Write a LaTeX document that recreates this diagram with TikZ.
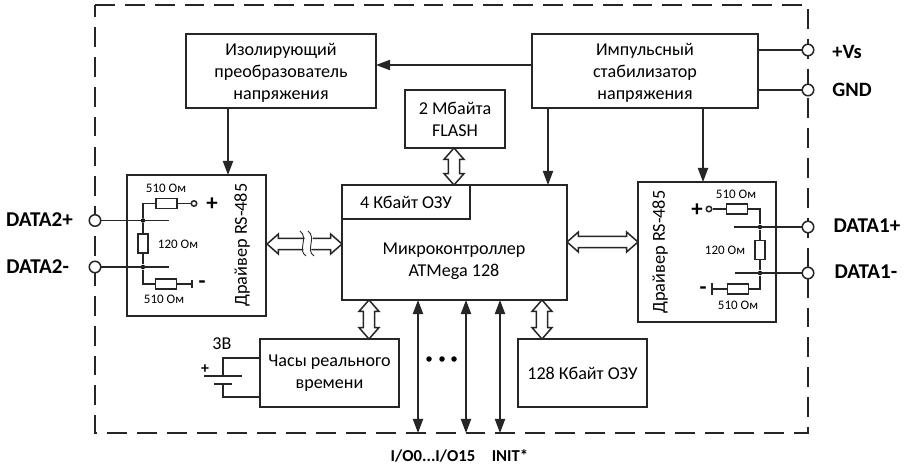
\documentclass[tikz,border=0pt]{standalone}
\usepackage{fontspec}
\setmainfont{Carlito}
\usetikzlibrary{arrows.meta,calc}
\tikzset{
line/.style={line width=0.85pt,color=black!85},
label/.style={inner sep=0pt,align=center,font=\fontsize{10.3}{12.5}\selectfont},
block/.style={line,draw,inner sep=0pt,align=center,text=black,font=\fontsize{10.3}{12.5}\selectfont},
res/.style={line,draw,fill=white,inner sep=0pt,minimum width=0.42cm,minimum height=0.2cm},
resv/.style={line,draw,fill=white,inner sep=0pt,minimum width=0.2cm,minimum height=0.38cm},
dot/.style={circle,fill=black,inner sep=0pt,minimum size=0.09cm},
term/.style={line,circle,draw,fill=white,inner sep=0pt,minimum size=0.23cm},
pin/.style={line,circle,draw,fill=white,inner sep=0pt,minimum size=0.11cm},
ohm/.style={inner sep=0pt,font=\fontsize{7.4}{9}\selectfont},
sig/.style={inner sep=0pt,font=\fontsize{12}{13}\selectfont\bfseries},
powerlabel/.style={inner sep=0pt,font=\fontsize{11.6}{13}\selectfont\bfseries},
iolabel/.style={inner sep=0pt,font=\fontsize{9.5}{11}\selectfont\bfseries},
busline/.style={line,fill=white,line join=miter},
}
\newcommand{\busarrow}[2]{\draw[busline] (#1)
--($(#1)!6.5pt!(#2)!5.7pt!90:(#2)$)--($(#1)!6.5pt!(#2)!3.2pt!90:(#2)$)
--($(#2)!6.5pt!(#1)!3.2pt!-90:(#1)$)--($(#2)!6.5pt!(#1)!5.7pt!-90:(#1)$)
--(#2)
--($(#2)!6.5pt!(#1)!5.7pt!90:(#1)$)--($(#2)!6.5pt!(#1)!3.2pt!90:(#1)$)
--($(#1)!6.5pt!(#2)!3.2pt!-90:(#2)$)--($(#1)!6.5pt!(#2)!5.7pt!-90:(#2)$)--cycle;}
\begin{document}
\begin{tikzpicture}[x=0.02cm,y=-0.02cm,>={Triangle[length=8pt,width=5.8pt]}]
\useasboundingbox(0,0)rectangle(907,466);
\fill[white](0,0)rectangle(907,466);
\draw[line,dash pattern=on 11.3pt off 5.7pt](95,5)--(808,5)--(808,433)--(95,433)--cycle;
% blocks
\node[block,minimum width=3.8cm,minimum height=1.48cm](iso)at(281,71){};
\node[label](isotext)at(281,73){Изолирующий\\преобразователь\\напряжения};
\node[block,minimum width=4.52cm,minimum height=1.48cm](stab)at(645,71){};
\node[label](stabtext)at(645,73){Импульсный\\стабилизатор\\напряжения};
\node[block,minimum width=2cm,minimum height=1.16cm](flash)at(455,119){2 Мбайта\\FLASH};
\node[block,minimum width=4.5cm,minimum height=2.3cm](mcu)at(454.5,242.5){};
\node[block,anchor=north west,minimum width=2.56cm,minimum height=0.68cm](ram4)at(mcu.north west){4 Кбайт ОЗУ};
\node[label](mcutext)at(454,261.5){Микроконтроллер\\ATMega 128};
\node[block,minimum width=2.78cm,minimum height=2.82cm](drvl)at(196.5,245.5){};
\node[block,minimum width=2.76cm,minimum height=2.8cm](drvr)at(707,252){};
\node[block,minimum width=2.78cm,minimum height=1.36cm](clock)at(329.5,373){Часы реального\\времени};
\node[block,minimum width=2.58cm,minimum height=1.36cm](ram128)at(582.5,373){128 Кбайт ОЗУ};
\node[inner sep=0pt,rotate=90,font=\fontsize{10.4}{12}\selectfont](drvltext)at(242,245){Драйвер RS-485};
\node[inner sep=0pt,rotate=90,font=\fontsize{10.4}{12}\selectfont](drvrtext)at(660,252){Драйвер RS-485};
% power
\node[term](tvs)at(808,50){};
\node[term](tgnd)at(808,90){};
\node[powerlabel,anchor=west](lvs)at(832,52){+Vs};
\node[powerlabel,anchor=west](lgnd)at(832,90){GND};
\draw[line](stab.east|-tvs)--(tvs);
\draw[line](stab.east|-tgnd)--(tgnd);
\coordinate(a1)at(532,65);\coordinate(a2)at(376,65);
\coordinate(a3)at(228,108);\coordinate(a4)at(228,175);
\coordinate(a5)at(548,108);\coordinate(a6)at(548,185);
\coordinate(a7)at(703,108);\coordinate(a8)at(703,182);
\draw[line,->](a1)--(a2);
\draw[line,->](a3)--(a4);
\draw[line,->](a5)--(a6);
\draw[line,->](a7)--(a8);
% buses
\coordinate(b1)at(454,148);\coordinate(b2)at(454,185);
\coordinate(b3)at(369,300);\coordinate(b4)at(369,339);
\coordinate(b5)at(542,300);\coordinate(b6)at(542,339);
\coordinate(b7)at(267,244);\coordinate(b8)at(342,244);
\coordinate(b9)at(567,242);\coordinate(b10)at(638,242);
\busarrow{b1}{b2}
\busarrow{b3}{b4}
\busarrow{b5}{b6}
\busarrow{b7}{b8}
\busarrow{b9}{b10}
\fill[white](302,231)..controls(309,238)and(299,250)..(306,256)--(314,256)..controls(307,250)and(317,238)..(310,231)--cycle;
\draw[line,line width=0.5pt](300,231)..controls(309,238)and(297,250)..(306,256);
\draw[line,line width=0.5pt](308,231)..controls(317,238)and(305,250)..(314,256);
% left driver
\node[term](t2p)at(95,220.5){};
\node[term](t2m)at(95,267){};
\node[sig](l2p)at(39.5,220){DATA2+};
\node[sig,anchor=west](l2m)at(6,267){DATA2-};
\node[dot](dl1)at(143,220.5){};
\node[dot](dl2)at(143,267){};
\coordinate(el1)at(169,220.5);\coordinate(el2)at(169,267);
\node[res](rl1)at(166.5,203.5){};
\node[resv](rl2)at(143,243.5){};
\node[res](rl3)at(166,284){};
\node[pin](pl)at(194,203.5){};
\coordinate(bl)at(192,284);
\draw[line](t2p)--(el1);
\draw[line](t2m)--(el2);
\draw[line](dl1)|-(rl1);\draw[line](rl1)--(pl);
\draw[line](dl1)--(rl2)--(dl2);
\draw[line](dl2)|-(rl3);\draw[line](rl3)--(bl);
\draw[line]([yshift=-0.09cm]bl)--([yshift=0.09cm]bl);
\node[ohm](ol1)at(166,188){510 Ом};
\node[ohm](ol2)at(178,244){120 Ом};
\node[ohm](ol3)at(164,299){510 Ом};
\node[inner sep=0pt,font=\fontsize{13}{13}\selectfont\bfseries](plusl)at(212,204.5){+};
\node[inner sep=0pt,font=\fontsize{13}{13}\selectfont\bfseries](minusl)at(202,284.5){-};
% right driver
\node[term](t1p)at(808,227){};
\node[term](t1m)at(808,273){};
\node[sig](l1p)at(867,226){DATA1+};
\node[sig](l1m)at(866,272){DATA1-};
\node[dot](dr1)at(760,227){};
\node[dot](dr2)at(760,273){};
\coordinate(er1)at(734,227);\coordinate(er2)at(735,273);
\node[res](rr1)at(737,209){};
\node[resv](rr2)at(760,250){};
\node[res](rr3)at(738,289){};
\node[pin](pr)at(709,209){};
\coordinate(br)at(712,289);
\draw[line](t1p)--(er1);
\draw[line](t1m)--(er2);
\draw[line](dr1)|-(rr1);\draw[line](rr1)--(pr);
\draw[line](dr1)--(rr2)--(dr2);
\draw[line](dr2)|-(rr3);\draw[line](rr3)--(br);
\draw[line]([yshift=-0.12cm]br)--([yshift=0.12cm]br);
\node[ohm](or1)at(736,194){510 Ом};
\node[ohm](or2)at(725,250){120 Ом};
\node[ohm](or3)at(738,305){510 Ом};
\node[inner sep=0pt,font=\fontsize{13}{13}\selectfont\bfseries](plusr)at(697,210){+};
\node[inner sep=0pt,font=\fontsize{13}{13}\selectfont\bfseries](minusr)at(703,291){-};
% battery
\coordinate(c1)at(223,376);\coordinate(c2)at(223,384);
\coordinate(c3)at(204,376);\coordinate(c4)at(242,376);
\coordinate(c5)at(214,384);\coordinate(c6)at(232,384);
\coordinate(c7)at(260,358);\coordinate(c8)at(260,397);
\draw[line](c7)-|(c1);
\draw[line](c8)-|(c2);
\draw[line](c3)--(c4);
\draw[line](c5)--(c6);
\node[inner sep=0pt,font=\fontsize{10.3}{12}\selectfont](lbat)at(222,344){3В};
\node[inner sep=0pt,font=\fontsize{9}{10}\selectfont\bfseries](lbatp)at(205,369){+};
% i/o lines
\coordinate(s1)at(418,300);\coordinate(s2)at(418,433);
\coordinate(s3)at(466,300);\coordinate(s4)at(466,433);
\coordinate(s5)at(500,300);\coordinate(s6)at(500,433);
\draw[line,<->](s1)--(s2);
\draw[line,<->](s3)--(s4);
\draw[line,<->](s5)--(s6);
\node[dot,minimum size=0.11cm](p1)at(429,359){};
\node[dot,minimum size=0.11cm](p2)at(442,359){};
\node[dot,minimum size=0.11cm](p3)at(454,359){};
\node[iolabel](lio)at(433,456){I/O0...I/O15};
\node[iolabel](linit)at(510,456){INIT*};
\end{tikzpicture}
\end{document}
